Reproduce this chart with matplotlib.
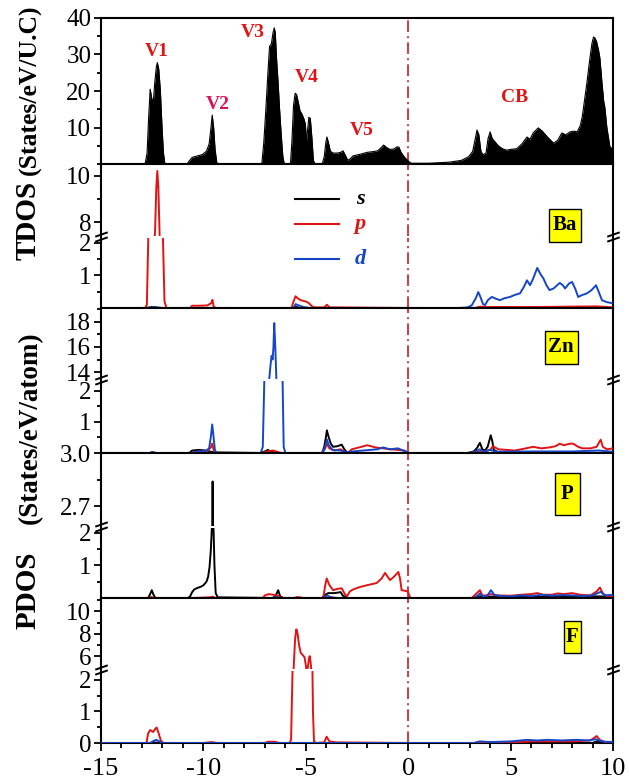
import matplotlib
matplotlib.use('Agg')
import matplotlib.pyplot as plt
import numpy as np
from matplotlib.lines import Line2D
from matplotlib.patches import Rectangle
from matplotlib.ticker import FixedLocator, MultipleLocator, FormatStrFormatter
from matplotlib.transforms import ScaledTranslation

plt.rcParams['font.family'] = ['Liberation Serif', 'DejaVu Serif']
plt.rcParams['axes.unicode_minus'] = False

# ---- data: (energy eV, DOS) ----
tdos = [(-15, 0), (-12.85, 0), (-12.75, 3), (-12.68, 12), (-12.6, 20.5), (-12.52, 18), (-12.45, 16.5),
        (-12.38, 22), (-12.3, 26.5), (-12.25, 27.8), (-12.18, 26), (-12.1, 20), (-12.02, 10), (-11.95, 3),
        (-11.88, 0), (-10.8, 0), (-10.7, 0.8), (-10.55, 1.8), (-10.3, 2.2), (-10.05, 2.6), (-9.85, 3.5),
        (-9.72, 5.5), (-9.63, 10), (-9.57, 13.4), (-9.5, 10), (-9.43, 4), (-9.35, 0.5), (-9.3, 0),
        (-7.15, 0), (-7.05, 6), (-6.95, 15), (-6.85, 25), (-6.77, 32.2), (-6.68, 33), (-6.6, 36),
        (-6.54, 37.3), (-6.49, 36), (-6.43, 29), (-6.36, 23), (-6.28, 15), (-6.2, 8), (-6.12, 2),
        (-6.05, 0), (-5.75, 0), (-5.68, 6), (-5.6, 16), (-5.52, 19.4), (-5.45, 19), (-5.37, 17),
        (-5.28, 14.5), (-5.2, 13.8), (-5.1, 12.5), (-5.02, 11), (-4.97, 6), (-4.92, 9), (-4.85, 12.8),
        (-4.78, 12.5), (-4.7, 7), (-4.63, 1), (-4.55, 0), (-4.2, 0), (-4.1, 2), (-4.02, 6), (-3.97, 7.4),
        (-3.9, 6), (-3.8, 3.5), (-3.67, 3), (-3.45, 3), (-3.3, 3.2), (-3.18, 3.6), (-3.08, 2.5),
        (-2.95, 1), (-2.82, 1.5), (-2.7, 2.2), (-2.4, 2.6), (-2.0, 3.2), (-1.7, 3.4), (-1.5, 3.6),
        (-1.3, 4.6), (-1.2, 5.2), (-1.05, 4.5), (-0.89, 4.0), (-0.7, 4.1), (-0.55, 4.7), (-0.45, 4.6),
        (-0.35, 3.2), (-0.2, 2.0), (0.0, 0.8), (0.15, 0.2), (1.0, 0.2), (2.0, 0.5), (2.6, 1), (2.95, 2),
        (3.15, 3.5), (3.28, 7), (3.36, 9.3), (3.45, 8), (3.55, 3.5), (3.65, 2.5), (3.8, 3), (3.9, 7),
        (4.0, 8.8), (4.1, 7), (4.25, 6), (4.4, 5), (4.6, 4.2), (4.8, 3.8), (5.0, 4), (5.3, 4.2),
        (5.55, 5.5), (5.8, 7.4), (5.95, 6.8), (6.1, 8.5), (6.35, 9.9), (6.55, 9), (6.8, 7.4), (7.1, 5.7),
        (7.3, 6.5), (7.5, 8.5), (7.7, 8), (7.9, 8.8), (8.1, 9), (8.25, 8.8), (8.4, 10.5), (8.5, 13),
        (8.6, 17), (8.72, 22), (8.85, 28), (8.97, 33), (9.05, 34.8), (9.12, 34.5), (9.2, 33.5),
        (9.3, 31), (9.36, 29), (9.45, 23), (9.55, 17), (9.6, 15.6), (9.7, 10), (9.85, 4.7), (10.0, 4)]

ba_s = [(-15, 0.0), (-12.8, 0.0), (-12.5, 0.03), (-12.0, 0.0), (-5.6, 0.0), (-5.5, 0.04), (-5.3, 0.0),
        (3.3, 0.0), (3.5, 0.03), (4.0, 0.02), (10, 0.0)]
ba_p = [(-15, 0.0), (-12.85, 0.0), (-12.76, 0.1), (-12.68, 2.5), (-12.5, 5.5), (-12.36, 7.6), (-12.3, 9.5),
        (-12.25, 10.2), (-12.2, 9.5), (-12.14, 7.5), (-12.05, 4), (-11.97, 2.0), (-11.9, 0.2), (-11.8, 0.0),
        (-10.65, 0.0), (-10.55, 0.07), (-10.2, 0.07), (-9.8, 0.08), (-9.62, 0.15), (-9.56, 0.25),
        (-9.5, 0.05), (-9.4, 0.0), (-5.7, 0.0), (-5.6, 0.2), (-5.5, 0.36), (-5.4, 0.3), (-5.25, 0.24),
        (-5.0, 0.2), (-4.85, 0.15), (-4.7, 0.05), (-4.55, 0.02), (-4.1, 0.02), (-3.97, 0.1), (-3.85, 0.02),
        (0, 0.0), (3.3, 0.0), (3.5, 0.04), (4.0, 0.03), (6, 0.03), (9.2, 0.05), (10, 0.02)]
ba_d = [(-15, 0.0), (-12.6, 0.0), (-12.4, 0.03), (-12.2, 0.0), (-5.6, 0.0), (-5.5, 0.12), (-5.35, 0.08),
        (-5.1, 0.03), (-4.8, 0.0), (2.5, 0.0), (2.9, 0.02), (3.1, 0.08), (3.3, 0.3), (3.42, 0.49),
        (3.52, 0.35), (3.65, 0.12), (3.75, 0.09), (3.9, 0.25), (4.09, 0.34), (4.3, 0.28), (4.48, 0.24),
        (4.7, 0.3), (4.97, 0.34), (5.2, 0.4), (5.46, 0.45), (5.65, 0.65), (5.8, 0.85), (5.95, 0.7),
        (6.1, 0.9), (6.3, 1.23), (6.45, 1.05), (6.6, 0.91), (6.75, 0.7), (6.9, 0.55), (7.1, 0.6),
        (7.4, 0.77), (7.55, 0.7), (7.66, 0.6), (7.85, 0.75), (8.0, 0.8), (8.15, 0.6), (8.3, 0.34),
        (8.5, 0.4), (8.73, 0.45), (8.95, 0.55), (9.1, 0.65), (9.17, 0.7), (9.3, 0.5), (9.46, 0.24),
        (9.7, 0.18), (9.95, 0.15), (10, 0.15)]

zn_s = [(-15, 0.0), (-12.6, 0.0), (-12.5, 0.03), (-12.4, 0.0), (-10.7, 0.0), (-10.55, 0.08), (-10.2, 0.1),
        (-9.9, 0.08), (-9.7, 0.05), (-9.5, 0.02), (-7.2, 0.0), (-7.0, 0.05), (-6.85, 0.1), (-6.7, 0.04),
        (-6.5, 0.0), (-4.2, 0.0), (-4.1, 0.2), (-4.02, 0.5), (-3.97, 0.73), (-3.9, 0.55), (-3.78, 0.3),
        (-3.67, 0.2), (-3.45, 0.22), (-3.25, 0.27), (-3.1, 0.1), (-2.95, 0.0), (0, 0.0), (2.9, 0.0),
        (3.2, 0.05), (3.35, 0.15), (3.5, 0.33), (3.62, 0.12), (3.75, 0.08), (3.88, 0.2), (4.03, 0.57),
        (4.1, 0.4), (4.18, 0.1), (4.4, 0.02), (10, 0.0)]
zn_p = [(-15, 0.0), (-12.6, 0.0), (-12.5, 0.02), (-12.4, 0.0), (-10.6, 0.0), (-10.3, 0.04), (-9.8, 0.06),
        (-9.62, 0.2), (-9.57, 0.3), (-9.5, 0.1), (-9.4, 0.0), (-7.1, 0.0), (-6.9, 0.05), (-6.6, 0.08),
        (-6.4, 0.04), (-6.2, 0.0), (-4.2, 0.0), (-4.05, 0.15), (-3.97, 0.3), (-3.85, 0.15), (-3.6, 0.08),
        (-3.3, 0.12), (-3.1, 0.05), (-2.95, 0.0), (-2.75, 0.12), (-2.4, 0.18), (-2.0, 0.25), (-1.6, 0.18),
        (-1.23, 0.15), (-0.9, 0.12), (-0.5, 0.1), (-0.2, 0.08), (0.05, 0.0), (3.0, 0.0), (3.4, 0.05),
        (3.6, 0.03), (4.0, 0.1), (4.14, 0.22), (4.4, 0.12), (4.8, 0.1), (5.2, 0.08), (5.6, 0.13),
        (6.1, 0.2), (6.5, 0.15), (6.9, 0.18), (7.2, 0.22), (7.4, 0.3), (7.6, 0.25), (7.9, 0.3),
        (8.05, 0.3), (8.3, 0.2), (8.5, 0.15), (8.9, 0.15), (9.2, 0.2), (9.4, 0.43), (9.5, 0.2),
        (9.7, 0.12), (10, 0.15)]
zn_d = [(-15, 0.0), (-12.6, 0.0), (-12.45, 0.03), (-12.3, 0.0), (-10.6, 0.0), (-10.3, 0.05), (-9.9, 0.06),
        (-9.72, 0.15), (-9.64, 0.5), (-9.57, 0.92), (-9.5, 0.5), (-9.44, 0.1), (-9.35, 0.0), (-7.2, 0.0),
        (-7.1, 0.2), (-7.02, 2.5), (-6.9, 8), (-6.8, 13.2), (-6.72, 14.6), (-6.67, 15.3), (-6.62, 15.0),
        (-6.58, 16), (-6.54, 17.9), (-6.49, 16), (-6.44, 13.6), (-6.3, 8), (-6.13, 2.2), (-6.08, 0.2),
        (-6.0, 0.0), (-4.2, 0.0), (-4.08, 0.15), (-3.97, 0.44), (-3.88, 0.25), (-3.7, 0.1), (-3.3, 0.08),
        (-3.0, 0.02), (-2.7, 0.05), (-2.2, 0.08), (-1.5, 0.12), (-1.23, 0.18), (-0.9, 0.12), (-0.5, 0.15),
        (-0.25, 0.08), (0.05, 0.0), (3.0, 0.0), (3.3, 0.05), (3.5, 0.12), (3.65, 0.04), (4.0, 0.1),
        (4.3, 0.04), (6, 0.05), (8, 0.05), (9.3, 0.08), (10, 0.04)]

p_s = [(-15, 0.0), (-12.7, 0.0), (-12.6, 0.12), (-12.52, 0.24), (-12.45, 0.12), (-12.35, 0.0), (-10.75, 0.0),
       (-10.65, 0.05), (-10.55, 0.18), (-10.45, 0.26), (-10.33, 0.3), (-10.15, 0.34), (-10.0, 0.39),
       (-9.85, 0.5), (-9.77, 0.65), (-9.7, 0.95), (-9.64, 1.45), (-9.59, 2.1), (-9.57, 2.5), (-9.55, 2.84),
       (-9.53, 2.5), (-9.5, 2.0), (-9.46, 1.0), (-9.4, 0.15), (-9.3, 0.02), (-6.6, 0.0), (-6.45, 0.1),
       (-6.35, 0.24), (-6.25, 0.05), (-6.1, 0.0), (-4.2, 0.0), (-4.05, 0.1), (-3.9, 0.15), (-3.6, 0.15),
       (-3.3, 0.18), (-3.2, 0.08), (-3.0, 0.0), (3.2, 0.0), (3.5, 0.05), (4.0, 0.04), (6, 0.03),
       (9.4, 0.05), (10, 0.02)]
p_p = [(-15, 0.0), (-12.7, 0.0), (-12.55, 0.03), (-12.4, 0.0), (-10.5, 0.0), (-9.7, 0.02), (-9.55, 0.04),
       (-9.4, 0.0), (-7.1, 0.0), (-7.0, 0.08), (-6.8, 0.12), (-6.6, 0.1), (-6.4, 0.08), (-6.26, 0.02),
       (-6.1, 0.0), (-5.6, 0.0), (-5.4, 0.03), (-5.1, 0.0), (-4.15, 0.0), (-4.05, 0.4), (-3.98, 0.6),
       (-3.85, 0.4), (-3.67, 0.24), (-3.45, 0.28), (-3.25, 0.3), (-3.12, 0.15), (-3.0, 0.04), (-2.85, 0.2),
       (-2.7, 0.26), (-2.4, 0.33), (-2.03, 0.39), (-1.75, 0.43), (-1.54, 0.46), (-1.3, 0.6), (-1.13, 0.77),
       (-1.0, 0.65), (-0.89, 0.55), (-0.7, 0.65), (-0.48, 0.8), (-0.4, 0.6), (-0.32, 0.24), (-0.15, 0.22),
       (-0.02, 0.2), (0.1, 0.0), (3.1, 0.0), (3.35, 0.15), (3.5, 0.24), (3.62, 0.08), (3.8, 0.08),
       (4.04, 0.12), (4.3, 0.08), (5.0, 0.07), (5.5, 0.1), (6.0, 0.12), (6.3, 0.15), (6.6, 0.1), (7.0, 0.1),
       (7.3, 0.14), (7.6, 0.12), (8.0, 0.15), (8.4, 0.1), (8.9, 0.08), (9.2, 0.2), (9.36, 0.32),
       (9.5, 0.15), (9.7, 0.05), (10, 0.05)]
p_d = [(-15, 0.0), (-6.6, 0.0), (-6.45, 0.04), (-6.3, 0.0), (-4.1, 0.0), (-3.97, 0.08), (-3.8, 0.03),
       (-3.5, 0.0), (3.2, 0.0), (3.4, 0.08), (3.5, 0.14), (3.62, 0.05), (3.85, 0.06), (4.04, 0.24),
       (4.2, 0.1), (4.5, 0.06), (5.0, 0.05), (5.5, 0.08), (6.0, 0.06), (6.5, 0.1), (7.0, 0.07), (7.5, 0.09),
       (8.0, 0.08), (8.5, 0.06), (9.0, 0.08), (9.4, 0.19), (9.6, 0.08), (10, 0.1)]

f_s = [(-15, 0.0), (-12.6, 0.0), (-12.4, 0.02), (-12.2, 0.0), (-9.5, 0.0), (3.3, 0.0), (3.5, 0.04),
       (3.7, 0.0), (9.0, 0.0), (9.2, 0.05), (10, 0.0)]
f_p = [(-15, 0.0), (-12.78, 0.0), (-12.7, 0.3), (-12.6, 0.41), (-12.52, 0.38), (-12.45, 0.35),
       (-12.35, 0.45), (-12.28, 0.49), (-12.18, 0.3), (-12.08, 0.08), (-11.95, 0.0), (-10.0, 0.0),
       (-9.6, 0.03), (-9.3, 0.0), (-7.0, 0.0), (-6.85, 0.04), (-6.5, 0.04), (-6.3, 0.0), (-5.8, 0.0),
       (-5.72, 0.1), (-5.64, 2.5), (-5.58, 5.5), (-5.52, 7.6), (-5.46, 8.4), (-5.4, 8.0), (-5.33, 7.0),
       (-5.25, 6.3), (-5.15, 6.1), (-5.06, 5.9), (-5.0, 5.2), (-4.96, 4.6), (-4.9, 5.0), (-4.84, 5.9),
       (-4.8, 6.0), (-4.75, 5.2), (-4.7, 3.5), (-4.65, 1.0), (-4.6, 0.05), (-4.5, 0.0), (-4.1, 0.02),
       (-3.98, 0.2), (-3.85, 0.05), (-3.5, 0.02), (0, 0.0), (3.3, 0.0), (3.5, 0.03), (5.0, 0.02),
       (6, 0.05), (7, 0.05), (8, 0.05), (8.9, 0.08), (9.2, 0.22), (9.35, 0.1), (9.6, 0.03), (10, 0.02)]
f_d = [(-15, 0.0), (-12.6, 0.0), (-12.45, 0.06), (-12.3, 0.1), (-12.15, 0.05), (-12.0, 0.0), (-9.5, 0.0),
       (3.2, 0.0), (3.5, 0.05), (4.0, 0.03), (5, 0.05), (5.8, 0.1), (6.3, 0.08), (6.8, 0.1), (7.5, 0.08),
       (8.2, 0.1), (8.8, 0.08), (9.15, 0.12), (9.3, 0.08), (9.6, 0.04), (10, 0.03)]

atoms = ['Ba', 'Zn', 'P', 'F']
orbitals = ['s', 'p', 'd']
peak_labels = ['V1', 'V2', 'V3', 'V4', 'V5', 'CB']
peak_pos = [(-12.27, 30.7), (-9.29, 16.4), (-7.58, 35.9), (-4.94, 23.8), (-2.26, 9.3), (5.21, 18.1)]
xtick_vals = [-15, -10, -5, 0, 5, 10]
xtick_text = ['-15', '-10', '-5', '0', '5', '10']

RED = '#e01414'
BLUE = '#1546c8'
PINK = '#d4145a'
FERMI = '#c41e28'
orb_colors = {'s': 'black', 'p': RED, 'd': BLUE}

W, H = 629, 780
X0, X1 = 101, 613


def fx(px):
    return px / W


def fy(py):
    return 1 - py / H


fig = plt.figure(figsize=(W / 100, H / 100), dpi=100)


def new_axes(top, bottom):
    return fig.add_axes([fx(X0), fy(bottom), fx(X1) - fx(X0), (bottom - top) / H])


def style(ax, bottom_ticks):
    ax.set_xlim(-15, 10)
    ax.xaxis.set_major_locator(FixedLocator(xtick_vals))
    ax.xaxis.set_minor_locator(MultipleLocator(1))
    ax.tick_params(axis='x', which='both', direction='out', top=False, bottom=bottom_ticks,
                   labelbottom=False, width=1.3)
    ax.tick_params(axis='x', which='major', length=6)
    ax.tick_params(axis='x', which='minor', length=3.5)
    ax.tick_params(axis='y', which='both', direction='out', right=False, labelsize=18, width=1.3, pad=2)
    ax.tick_params(axis='y', which='major', length=5)
    ax.tick_params(axis='y', which='minor', length=3)
    for sp in ax.spines.values():
        sp.set_linewidth(1.5)
    ax.axvline(0, color=FERMI, lw=1.2, ls=(0, (7, 2.5, 1.2, 2.5)), zorder=1)


# ---- TDOS panel ----
ax_t = new_axes(18, 164)
style(ax_t, True)
tx, ty = np.array(tdos).T
ax_t.fill_between(tx, ty, 0, color='black', lw=0, zorder=2)
ax_t.plot(tx, ty, color='black', lw=0.8, zorder=2)
ax_t.set_ylim(0, 40)
ax_t.yaxis.set_major_locator(FixedLocator([10, 20, 30, 40]))
ax_t.yaxis.set_minor_locator(MultipleLocator(5))
for lab, (px_, py_) in zip(peak_labels, peak_pos):
    ax_t.text(px_, py_, lab, color=PINK if lab == 'V2' else RED, fontsize=14, fontweight='bold',
              ha='center', va='center')

# ---- PDOS panels with broken y axes ----
pdos = {'Ba': [ba_s, ba_p, ba_d], 'Zn': [zn_s, zn_p, zn_d], 'P': [p_s, p_p, p_d], 'F': [f_s, f_p, f_d]}
rows = [(164, 237, 308), (308, 380, 453), (453, 527, 598), (598, 670, 743)]
upper_lim = [(7.4, 10.5), (13.45, 19.1), (2.59, 3.0), (4.85, 11.2)]
lower_lim = [(0, 2.15), (0, 2.32), (0, 2.15), (0, 2.28)]
upper_major = [[8, 10], [14, 16, 18], [2.7, 3.0], [6, 8, 10]]
upper_minor = [[9], [15, 17, 19], [2.85], [7, 9, 11]]
lower_major = [[1, 2], [1, 2], [1, 2], [0, 1, 2]]
box_px = [(565, 225, 32, 33), (561, 347, 33, 33), (567, 494, 25, 42), (572, 637, 17, 32)]

for i, atom in enumerate(atoms):
    top, brk, bot = rows[i]
    ax_u = new_axes(top, brk - 1)
    ax_l = new_axes(brk + 1, bot)
    style(ax_u, False)
    style(ax_l, True)
    ax_u.spines['bottom'].set_visible(False)
    ax_l.spines['top'].set_visible(False)
    for orb, pts in zip(orbitals, pdos[atom]):
        x, y = np.array(pts).T
        for ax in (ax_u, ax_l):
            ax.plot(x, y, color=orb_colors[orb], lw=1.4, zorder=3)
    ax_u.set_ylim(*upper_lim[i])
    ax_l.set_ylim(*lower_lim[i])
    ax_u.yaxis.set_major_locator(FixedLocator(upper_major[i]))
    ax_u.yaxis.set_minor_locator(FixedLocator(upper_minor[i]))
    ax_u.yaxis.set_major_formatter(FormatStrFormatter('%.1f' if atom == 'P' else '%g'))
    ax_l.yaxis.set_major_locator(FixedLocator(lower_major[i]))
    ax_l.yaxis.set_minor_locator(FixedLocator([0.5, 1.5]))
    ax_l.yaxis.set_major_formatter(FormatStrFormatter('%g'))

    # break marks on both spines
    for dy in (-1.6, 1.6):
        tr = ax_l.transAxes + ScaledTranslation(0, (dy + 1) / 72, fig.dpi_scale_trans)
        ax_l.plot([0, 1], [1, 1], transform=tr, marker=[(-1, -0.35), (1, 0.35)], ms=9, mew=1.4,
                  ls='none', color='black', clip_on=False, zorder=5)

    # element tag
    cx, cy, bw, bh = box_px[i]
    fig.add_artist(Rectangle((fx(cx - bw / 2), fy(cy + bh / 2)), bw / W, bh / H,
                             transform=fig.transFigure, facecolor='#ffff00', edgecolor='black', lw=1.0))
    fig.text(fx(cx), fy(cy), atom, ha='center', va='center', fontsize=15, fontweight='bold')

    if atom == 'F':
        ax_l.tick_params(axis='x', labelbottom=True, labelsize=19, pad=5)
        ax_l.set_xticklabels(xtick_text)

# ---- legend (drawn across the broken Ba panel) ----
leg_y = [199, 224, 259]
for orb, ly in zip(orbitals, leg_y):
    fig.add_artist(Line2D([fx(295), fx(339)], [fy(ly), fy(ly)], transform=fig.transFigure,
                          color=orb_colors[orb], lw=1.5))
    fig.text(fx(360), fy(ly), orb, color=orb_colors[orb], fontsize=16, fontweight='bold',
             fontstyle='italic', ha='center', va='center')

# ---- axis titles ----
fig.text(fx(28), fy(220), 'TDOS', rotation=90, ha='center', va='center', fontsize=21, fontweight='bold')
fig.text(fx(30), fy(90), '(States/eV/U.C)', rotation=90, ha='center', va='center', fontsize=18.5,
         fontweight='bold')
fig.text(fx(28), fy(590), 'PDOS', rotation=90, ha='center', va='center', fontsize=21, fontweight='bold')
fig.text(fx(30), fy(428), '(States/eV/atom)', rotation=90, ha='center', va='center', fontsize=19.5,
         fontweight='bold')

fig.savefig('out.png', dpi=100)
